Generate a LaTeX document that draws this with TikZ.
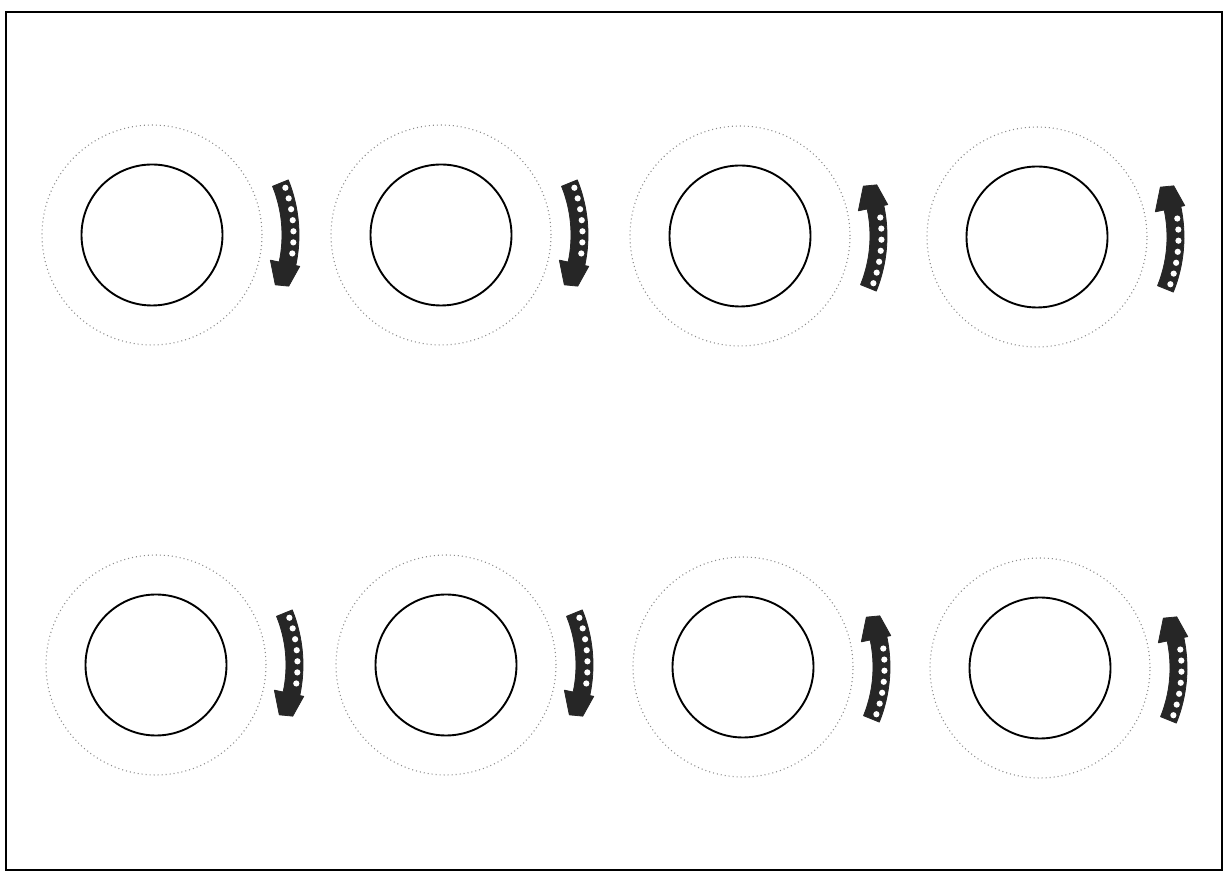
\documentclass[tikz,border=0pt]{standalone}
\newcommand\spinarrow[3]{%
 \begin{scope}[shift={(#1,877-#2)},yscale=#3]
  \filldraw[rotarrow] (22:130) arc[start angle=22,end angle=-12,radius=130] -- (-12:121) -- (-22:133) -- (-20.5:146) -- (-12:151) -- (-12:147) arc[start angle=-12,end angle=22,radius=147] -- cycle;
  \foreach \a in {19.5,15,...,-7.5} \fill[bead] (\a:141.5) circle (3.1);
 \end{scope}}
\begin{document}
\begin{tikzpicture}[x=1pt,y=1pt,
  disc/.style={circle,draw=black,line width=1.9pt,minimum size=141pt,inner sep=0pt},
  halo/.style={circle,draw=black!45,line width=1.1pt,dash pattern=on 1pt off 3pt,minimum size=220pt,inner sep=0pt},
  rotarrow/.style={fill=black!85,draw=black!85,line width=0.8pt,line join=round},
  bead/.style={fill=white}]
\useasboundingbox (0,0) rectangle (1225,877);
\fill[white] (0,0) rectangle (1225,877);
\draw[line width=1.8pt] (6,865) rectangle (1222,7);
% top row
\node[halo] (o1) at (152,877-235) {};
\node[disc] (c1) at (152,877-235) {};
\node[halo] (o2) at (441,877-235) {};
\node[disc] (c2) at (441,877-235) {};
\node[halo] (o3) at (740,877-236) {};
\node[disc] (c3) at (740,877-236) {};
\node[halo] (o4) at (1037,877-237) {};
\node[disc] (c4) at (1037,877-237) {};
% bottom row
\node[halo] (o5) at (156,877-665) {};
\node[disc] (c5) at (156,877-665) {};
\node[halo] (o6) at (446,877-665) {};
\node[disc] (c6) at (446,877-665) {};
\node[halo] (o7) at (743,877-667) {};
\node[disc] (c7) at (743,877-667) {};
\node[halo] (o8) at (1040,877-668) {};
\node[disc] (c8) at (1040,877-668) {};
% arrows
\spinarrow{152}{235}{1}
\spinarrow{441}{235}{1}
\spinarrow{740}{236}{-1}
\spinarrow{1037}{237}{-1}
\spinarrow{156}{665}{1}
\spinarrow{446}{665}{1}
\spinarrow{743}{667}{-1}
\spinarrow{1040}{668}{-1}
\end{tikzpicture}
\end{document}
